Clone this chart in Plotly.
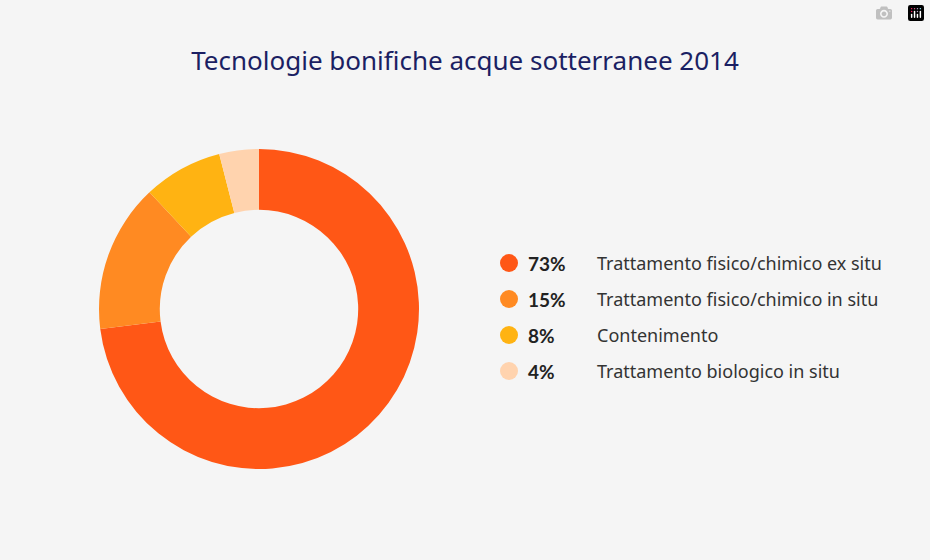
import plotly.graph_objects as go

labels = ["Trattamento fisico/chimico ex situ", "Trattamento fisico/chimico in situ",
          "Contenimento", "Trattamento biologico in situ"]
values = [73, 15, 8, 4]
colors = ["#FF5716", "#FF8A22", "#FFB312", "#FFD3AE"]

W, H = 930, 560
fig = go.Figure()
fig.add_trace(go.Pie(labels=labels, values=values, hole=0.62, sort=False,
                     direction="clockwise", rotation=0,
                     marker=dict(colors=colors, line=dict(width=0)),
                     textinfo="none", hoverinfo="label+percent", showlegend=False,
                     domain=dict(x=[99/W, 419/W], y=[1-469/H, 1-149/H])))

ann = []
shapes = []
for i, (lab, v, c) in enumerate(zip(labels, values, colors)):
    yc = 1 - (263 + 36*i)/H
    shapes.append(dict(type="circle", xref="paper", yref="paper",
                       x0=500/W, x1=518/W, y0=yc-9/H, y1=yc+9/H,
                       fillcolor=c, line=dict(width=0)))
    ann.append(dict(xref="paper", yref="paper", x=526/W, y=yc, xanchor="left", yanchor="middle",
                    text=f"<b>{v}%</b>", showarrow=False,
                    font=dict(family="Lato", size=19, color="#222222")))
    ann.append(dict(xref="paper", yref="paper", x=595/W, y=yc, xanchor="left", yanchor="middle",
                    text=lab, showarrow=False,
                    font=dict(family="Noto Sans", size=18, color="#333333")))

fig.update_layout(width=W, height=H, margin=dict(l=0, r=0, t=0, b=0),
                  paper_bgcolor="#F5F5F5", plot_bgcolor="#F5F5F5",
                  title=dict(text="Tecnologie bonifiche acque sotterranee 2014",
                             x=0.5, xanchor="center", y=1-61/H, yanchor="middle",
                             font=dict(family="Noto Sans", size=26, color="#1B1F63")),
                  annotations=ann, shapes=shapes)
fig.write_html("out.html",
               post_script="document.body.style.margin='0';document.body.style.background='#F5F5F5';")
